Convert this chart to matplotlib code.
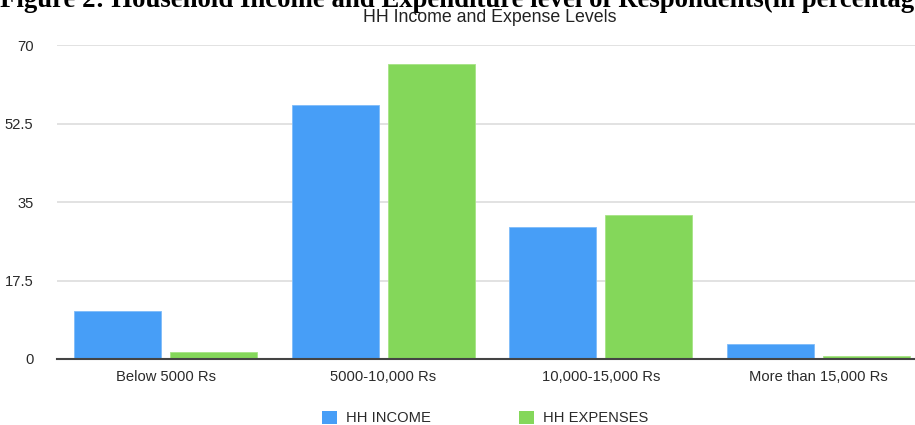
import numpy as np
from matplotlib import pyplot as plt
from matplotlib.patches import Patch

# household income / expense brackets, share of respondents in percent
brackets = ['Below 5000 Rs', '5000-10,000 Rs', '10,000-15,000 Rs', 'More than 15,000 Rs']
hh_income = [10.67, 56.67, 29.33, 3.33]
hh_expenses = [1.67, 65.67, 32.0, 0.67]
y_ticks = [0, 17.5, 35, 52.5, 70]

BLUE = '#479ef7'
GREEN = '#84d75a'

plt.rcParams['font.family'] = ['Liberation Sans', 'DejaVu Sans']

fig = plt.figure(figsize=(9.15, 4.25), dpi=100)
ax = fig.add_axes([57 / 915, 66 / 425, 870 / 915, 314 / 425])

x = np.arange(len(brackets))
w = 0.4
ax.bar(x - 0.22, hh_income, w, color=BLUE, edgecolor='#7fbcf9', linewidth=0.6, zorder=3)
ax.bar(x + 0.22, hh_expenses, w, color=GREEN, edgecolor='#a6e485', linewidth=0.6, zorder=3)

ax.set_xlim(-0.5, 3.5)
ax.set_ylim(0, 70)
ax.set_yticks(y_ticks)
ax.set_yticklabels(['0', '17.5', '35', '52.5', '70'])
ax.set_xticks(x)
ax.set_xticklabels(brackets)
ax.tick_params(axis='both', length=0, labelsize=10.6, colors='#2a2a2a')
ax.tick_params(axis='y', pad=17)
ax.tick_params(axis='x', pad=8)

ax.grid(axis='y', color='#dddddd', linewidth=1.2, zorder=0)
for s in ['top', 'right', 'left']:
    ax.spines[s].set_visible(False)
ax.spines['bottom'].set_color('#444444')
ax.spines['bottom'].set_linewidth(1.5)
ax.spines['bottom'].set_zorder(4)

# the figure caption sits half off the top edge
fig.text(0.0, 425 - 7, 'Figure 2: Household Income and Expenditure level of Respondents(in percentag',
         transform=None, family='Liberation Serif', fontweight='bold', fontsize=19.3,
         ha='left', va='baseline', color='black')
fig.text(490 / 915, 1 - 18 / 425, 'HH Income and Expense Levels', fontsize=12.8,
         ha='center', va='center', color='#222222')

handles = [Patch(facecolor=BLUE, label='HH INCOME'), Patch(facecolor=GREEN, label='HH EXPENSES')]
fig.legend(handles=handles, loc='center left', bbox_to_anchor=(309 / 915, 1 - 418 / 425),
           ncol=2, frameon=False, fontsize=10.6, handlelength=1.0, handleheight=1.0,
           handletextpad=0.6, columnspacing=6.0, labelcolor='#2a2a2a')

fig.savefig('out.png', dpi=100)
